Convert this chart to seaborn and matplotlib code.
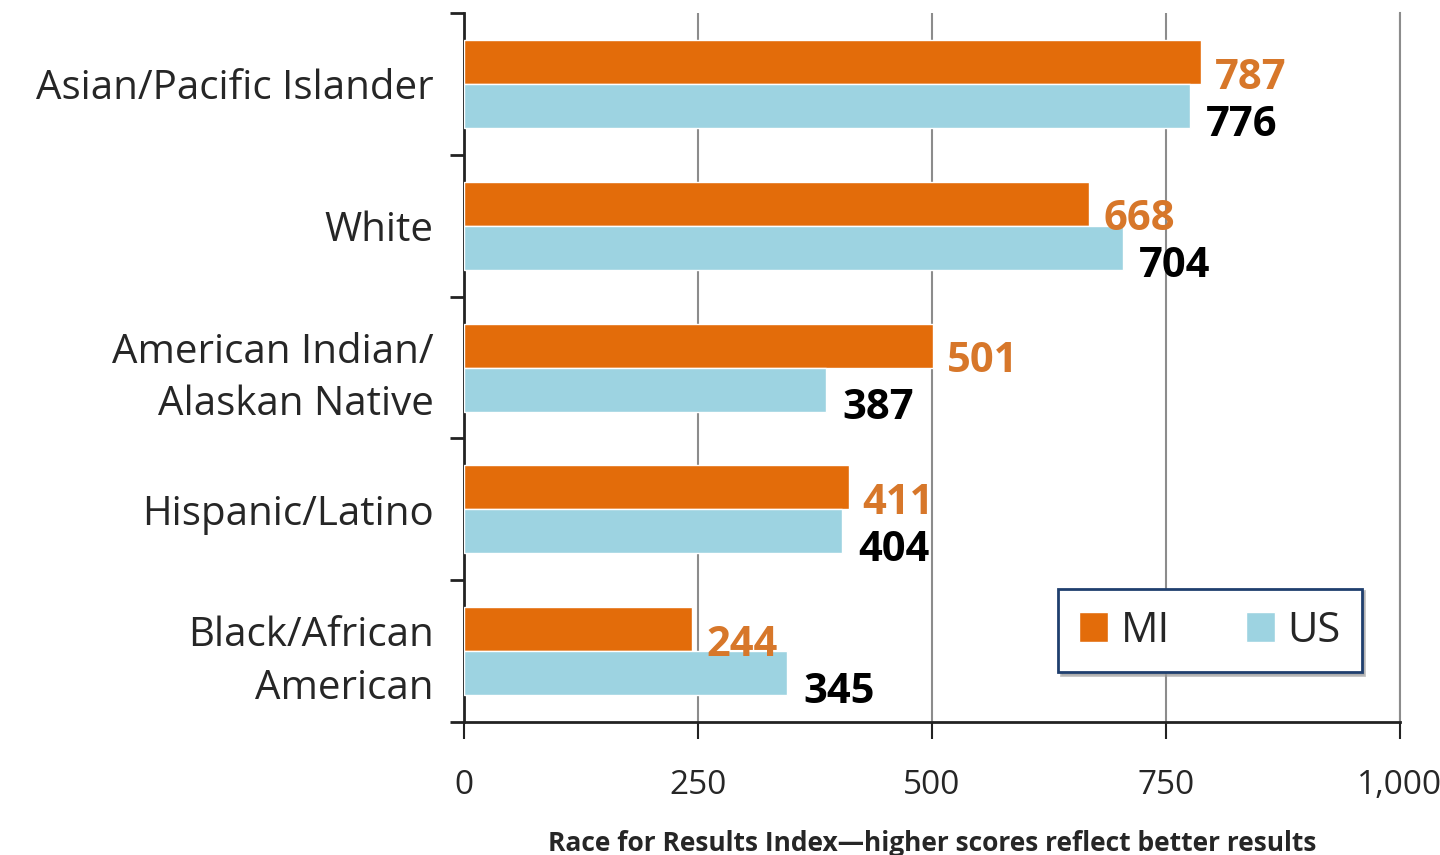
import pandas as pd
import numpy as np
import matplotlib
matplotlib.use("Agg")
import matplotlib.pyplot as plt
import seaborn as sns
from matplotlib.ticker import FixedLocator, FuncFormatter

# chart data
groups = ["Asian/Pacific Islander", "White", "American Indian/\nAlaskan Native",
          "Hispanic/Latino", "Black/African\nAmerican"]
mi_scores = [787, 668, 501, 411, 244]
us_scores = [776, 704, 387, 404, 345]
series = ["MI", "US"]
x_ticks = [0, 250, 500, 750, 1000]
x_title = "Race for Results Index\u2014higher scores reflect better results"

orange = "#E36C0A"
blue = "#9DD3E1"
label_orange = "#D7772A"

sns.set_style("white")
plt.rcParams['font.family'] = ['Open Sans', 'DejaVu Sans']

df = pd.DataFrame({
    "group": groups * 2,
    "score": mi_scores + us_scores,
    "series": [series[0]] * len(groups) + [series[1]] * len(groups),
})

fig = plt.figure(figsize=(14.4, 8.55), dpi=100)
ax = fig.add_axes([0.3222, 0.1556, 0.65, 0.829])

sns.barplot(data=df, y="group", x="score", hue="series", order=groups,
            hue_order=series, palette=[orange, blue], orient="h",
            width=0.62, gap=0, saturation=1, ax=ax, legend=True, zorder=3)

ax.set_xlim(0, 1000)
ax.set_ylim(len(groups) - 0.5, -0.5)

# grid lines
ax.xaxis.set_major_locator(FixedLocator(x_ticks))
ax.xaxis.set_major_formatter(FuncFormatter(lambda v, p: f"{int(v):,}"))
ax.grid(axis="x", color="#8c8c8c", linewidth=1.5, zorder=0)
ax.set_axisbelow(True)

# spines
ax.spines["top"].set_visible(False)
ax.spines["right"].set_color("#8c8c8c")
ax.spines["right"].set_linewidth(1.5)
ax.spines["left"].set_color("#222222")
ax.spines["left"].set_linewidth(2)
ax.spines["bottom"].set_color("#222222")
ax.spines["bottom"].set_linewidth(2)

# ticks
ax.tick_params(axis="x", which="major", bottom=True, direction="out", length=12,
               width=1.5, color="#222222", labelsize=24, pad=22)
ax.tick_params(axis="y", which="major", left=False, length=0, labelsize=29, pad=22)
ax.yaxis.set_minor_locator(FixedLocator(np.arange(-0.5, len(groups), 1.0)))
ax.tick_params(axis="y", which="minor", left=True, direction="out", length=10,
               width=2, color="#222222")
for lab in ax.get_yticklabels():
    lab.set_linespacing(1.4)

ax.set_ylabel("")
ax.set_xlabel(x_title, fontsize=19, fontweight="bold", labelpad=20)

# value labels
bw = 0.31
for i in range(len(groups)):
    ax.annotate(str(mi_scores[i]), (mi_scores[i], i - bw / 2),
                xytext=(14, -16), textcoords="offset pixels",
                ha="left", va="center", fontsize=30, fontweight="bold",
                color=label_orange, zorder=5)
    ax.annotate(str(us_scores[i]), (us_scores[i], i + bw / 2),
                xytext=(16, -19), textcoords="offset pixels",
                ha="left", va="center", fontsize=30, fontweight="bold",
                color="black", zorder=5)

# legend
handles, labels = ax.get_legend_handles_labels()
leg = ax.legend(handles, labels, loc="lower left",
                bbox_to_anchor=(0.635, 0.07, 0.324, 0.116), mode="expand",
                borderaxespad=0, ncol=2, fontsize=30, frameon=True,
                fancybox=False, shadow={"color": "#9a9a9a", "alpha": 0.6},
                handlelength=0.7, handleheight=0.7, handletextpad=0.3,
                columnspacing=1.2, borderpad=0.5)
leg.get_frame().set_edgecolor("#1F3F6E")
leg.get_frame().set_linewidth(2)

fig.savefig("out.png", dpi=100)
